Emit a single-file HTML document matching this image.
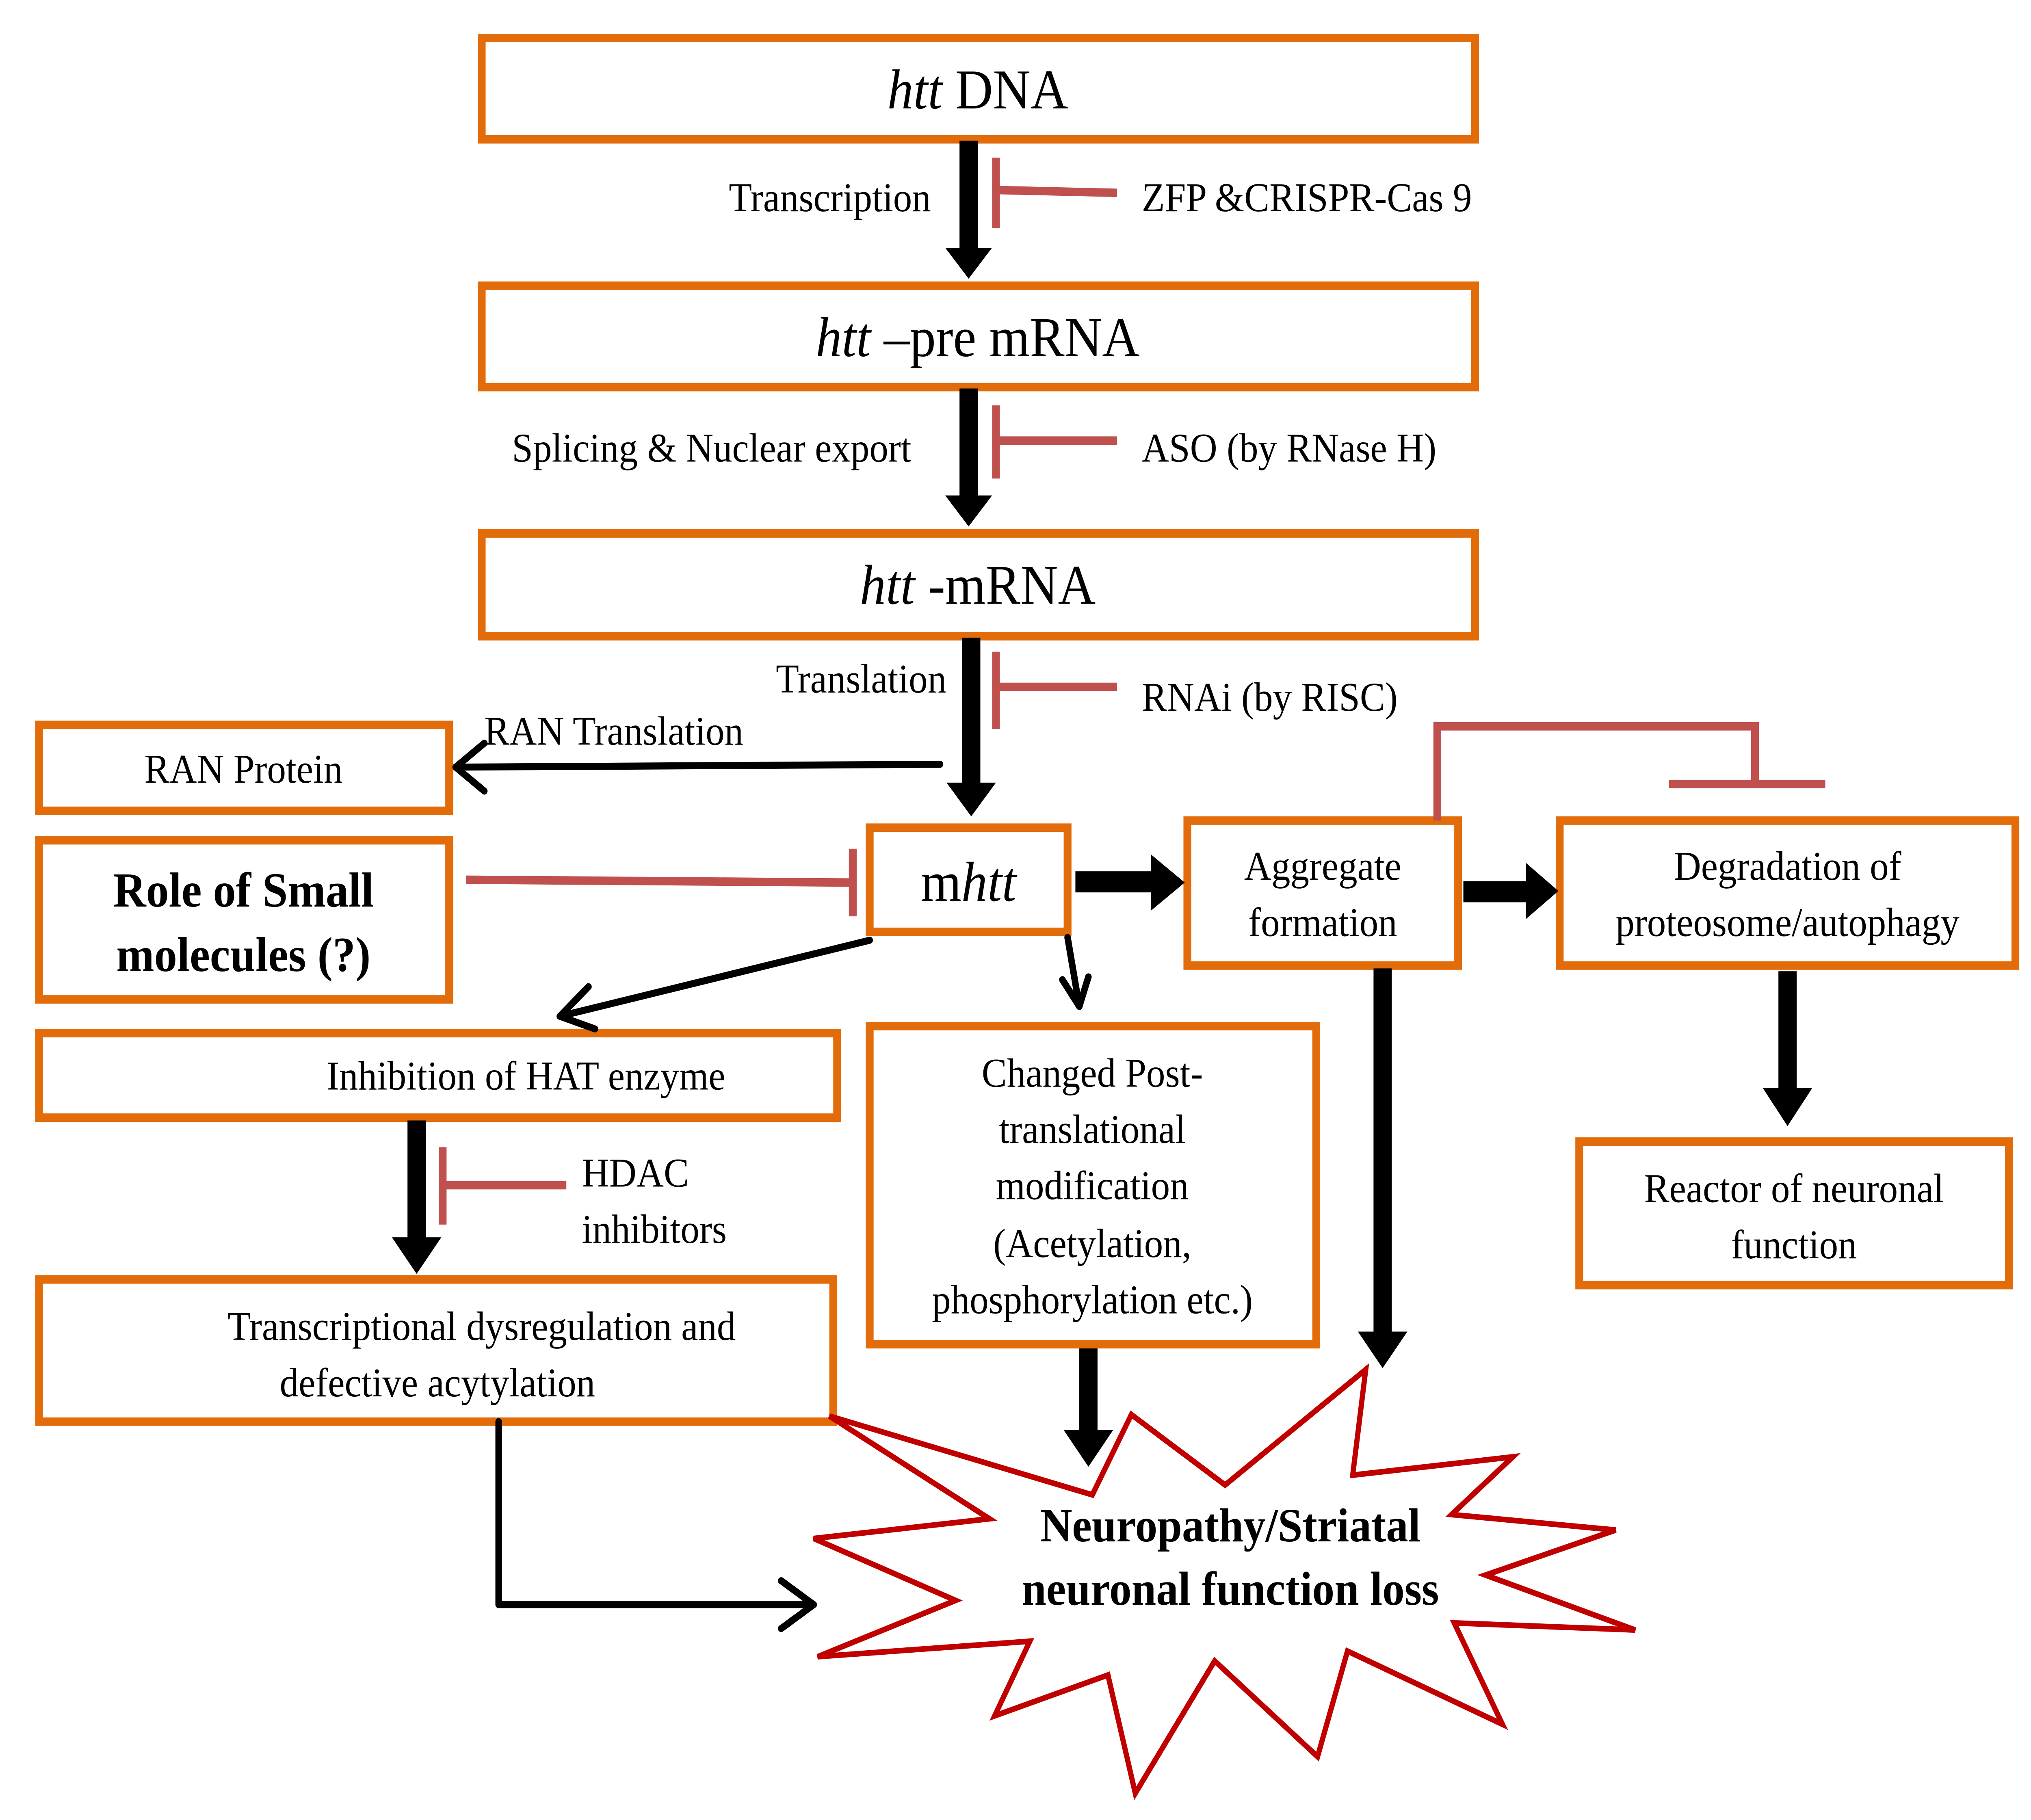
<!DOCTYPE html>
<html><head><meta charset="utf-8"><style>html,body{margin:0;padding:0;background:#fff;overflow:hidden;width:100%;height:100%}svg{display:block;width:100vw;height:100vh}</style></head>
<body>
<svg viewBox="0 0 1560 1293" preserveAspectRatio="none" xmlns="http://www.w3.org/2000/svg" font-family="Liberation Serif, serif">
<rect width="1560" height="1293" fill="#fff"/>
<g fill="none" stroke="#E36C0A" stroke-width="6">
<rect x="370" y="27" width="763" height="72"/>
<rect x="370" y="203" width="763" height="72"/>
<rect x="370" y="379" width="763" height="73"/>
<rect x="30" y="515" width="315" height="61"/>
<rect x="30" y="597" width="315" height="113"/>
<rect x="668" y="588" width="152" height="74"/>
<rect x="912" y="583" width="208" height="103"/>
<rect x="1198" y="583" width="350" height="103"/>
<rect x="30" y="734" width="613" height="60"/>
<rect x="668" y="729" width="343" height="226"/>
<rect x="1213" y="811" width="330" height="102"/>
<rect x="30" y="909" width="610" height="101"/>
</g>
<g fill="#000">
<rect x="737" y="100" width="14" height="78"/><polygon points="726,176 762,176 744,198"/>
<rect x="737" y="276" width="14" height="78"/><polygon points="726,352 762,352 744,374"/>
<rect x="739" y="453" width="14" height="105"/><polygon points="727,556 765,556 746,580"/>
<rect x="826" y="619" width="60" height="15"/><polygon points="884,607 884,647 910,627"/>
<rect x="1124" y="626" width="50" height="15"/><polygon points="1172,613 1172,653 1197,633"/>
<rect x="1366" y="690" width="14" height="85"/><polygon points="1354,773 1392,773 1373,800"/>
<rect x="1055" y="688" width="14" height="260"/><polygon points="1043,946 1081,946 1062,972"/>
<rect x="829" y="958" width="14" height="60"/><polygon points="817,1016 855,1016 836,1042"/>
<rect x="313" y="796" width="14" height="85"/><polygon points="301,879 339,879 320,905"/>
</g>
<g fill="none" stroke="#000" stroke-width="5" stroke-linecap="round" stroke-linejoin="round">
<line x1="722" y1="543" x2="350" y2="545"/><polyline points="372,528 350,545 372,562"/>
<line x1="668" y1="668" x2="430" y2="722"/><polyline points="452,701 430,722 457,731"/>
<line x1="820" y1="666" x2="829" y2="715"/><polyline points="816,696 829,715 836,694"/>
<polyline points="383,1010 383,1140 625,1140"/><polyline points="600,1123 625,1140 600,1157"/>
</g>
<g fill="none" stroke="#C0504D" stroke-width="6">
<line x1="858" y1="137" x2="765" y2="135"/><line x1="765" y1="112" x2="765" y2="162"/>
<line x1="858" y1="313" x2="765" y2="313"/><line x1="765" y1="288" x2="765" y2="340"/>
<line x1="858" y1="488" x2="765" y2="488"/><line x1="765" y1="463" x2="765" y2="518"/>
<line x1="358" y1="625" x2="655" y2="627"/><line x1="655" y1="603" x2="655" y2="651"/>
<line x1="435" y1="842" x2="340" y2="842"/><line x1="340" y1="815" x2="340" y2="870"/>
<polyline points="1104,583 1104,516 1348,516 1348,557"/><line x1="1282" y1="557" x2="1402" y2="557"/>
</g>
<polygon fill="#fff" stroke="#C00000" stroke-width="4" stroke-linejoin="miter" points="637,1006 839,1062 869,1005 941,1055 1049,973 1039,1048 1162,1035 1115,1076 1241,1087 1141,1119 1256,1158 1117,1153 1154,1225 1035,1173 1012,1248 933,1180 872,1274 851,1190 764,1219 791,1166 628,1177 734,1137 625,1093 760,1079"/>
<g fill="#000" text-anchor="middle">
<text x="751" y="77" font-size="40"><tspan font-style="italic">htt</tspan> DNA</text>
<text x="751" y="253" font-size="40"><tspan font-style="italic">htt</tspan> –pre mRNA</text>
<text x="751" y="429" font-size="40"><tspan font-style="italic">htt</tspan> -mRNA</text>
<text x="744" y="640" font-size="40">m<tspan font-style="italic">htt</tspan></text>
<text x="187" y="556" font-size="29">RAN Protein</text>
<text x="187" y="644" font-size="35" font-weight="bold">Role of Small</text>
<text x="187" y="690" font-size="35" font-weight="bold">molecules (?)</text>
<text x="1016" y="625" font-size="29">Aggregate</text>
<text x="1016" y="665" font-size="29">formation</text>
<text x="1373" y="625" font-size="29">Degradation of</text>
<text x="1373" y="665" font-size="29">proteosome/autophagy</text>
<text x="404" y="774" font-size="29">Inhibition of  HAT enzyme</text>
<text x="839" y="772" font-size="29">Changed Post-</text>
<text x="839" y="812" font-size="29">translational</text>
<text x="839" y="852" font-size="29">modification</text>
<text x="839" y="893" font-size="29">(Acetylation,</text>
<text x="839" y="933" font-size="29">phosphorylation etc.)</text>
<text x="1378" y="854" font-size="29">Reactor of neuronal</text>
<text x="1378" y="894" font-size="29">function</text>
<text x="370" y="952" font-size="29">Transcriptional dysregulation and</text>
<text x="336" y="992" font-size="29">defective acytylation</text>
<text x="945" y="1095" font-size="34" font-weight="bold">Neuropathy/Striatal</text>
<text x="945" y="1140" font-size="34" font-weight="bold">neuronal function loss</text>
</g>
<g fill="#000" font-size="29">
<text x="715" y="150" text-anchor="end">Transcription</text>
<text x="700" y="328" text-anchor="end">Splicing &amp; Nuclear export</text>
<text x="727" y="492" text-anchor="end">Translation</text>
<text x="372" y="529">RAN Translation</text>
<text x="877" y="150">ZFP &amp;CRISPR-Cas 9</text>
<text x="877" y="328">ASO (by RNase H)</text>
<text x="877" y="505">RNAi (by RISC)</text>
<text x="447" y="843">HDAC</text>
<text x="447" y="883">inhibitors</text>
</g>
</svg>
</body></html>
